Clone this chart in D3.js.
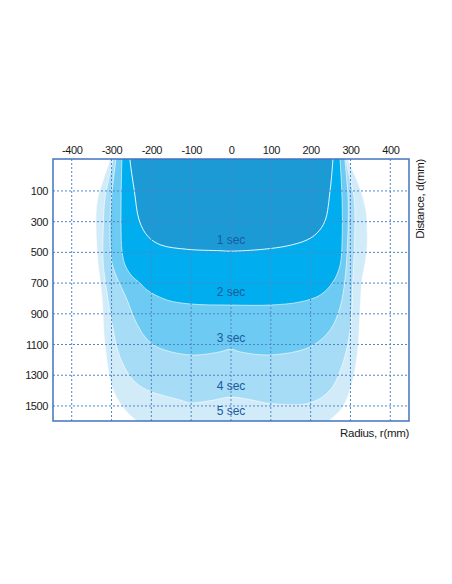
<!DOCTYPE html>
<html>
<head>
<meta charset="utf-8">
<script src="https://cdn.jsdelivr.net/npm/d3@7"></script>
<style>
  body { margin: 0; background: #fff; }
  text { font-family: "Liberation Sans", Arial, sans-serif; }
</style>
</head>
<body>
<script>
var width = 452,
	height = 584;

// chart values
var seconds = ["1 sec", "2 sec", "3 sec", "4 sec", "5 sec"];
var xTicks = [-400, -300, -200, -100, 0, 100, 200, 300, 400];
var yTicks = [100, 300, 500, 700, 900, 1100, 1300, 1500];
var labelDepth = [445, 784, 1084, 1396, 1559];

// outline of each zone: [radius r, distance d]
var zone1 = [[-256,-200],[-254,-108],[-243,94],[-230,296],[-208,398],[-176,452],[-110,480],[-28,489],[0,492],[80,480],[141,458],[191,419],[216,374],[236,296],[249,94],[256,-108],[258,-200]];
var zone2 = [[-273,-200],[-274,-108],[-276,159],[-276,354],[-274,485],[-266,582],[-249,654],[-229,699],[-211,745],[-161,810],[-103,836],[0,843],[98,843],[173,823],[224,778],[256,693],[274,582],[279,419],[279,159],[274,-108],[273,-200]];
var zone3 = [[-286,-200],[-289,-108],[-300,139],[-304,354],[-299,569],[-284,680],[-264,790],[-241,940],[-216,1051],[-186,1116],[-103,1168],[-28,1148],[0,1130],[23,1148],[98,1168],[198,1116],[249,1005],[274,856],[286,680],[294,354],[294,139],[286,-108],[284,-200]];
var zone4 = [[-292,-200],[-296,-108],[-316,139],[-321,354],[-321,569],[-316,680],[-299,960],[-279,1181],[-246,1331],[-211,1396],[-128,1461],[-103,1480],[-50,1465],[0,1442],[50,1460],[98,1484],[198,1481],[249,1396],[281,1220],[299,1005],[306,680],[311,354],[309,139],[299,29],[289,-108],[286,-200]];
var zone5 = [[-300,-200],[-304,-108],[-321,29],[-334,139],[-339,244],[-339,354],[-337,465],[-334,569],[-329,680],[-324,790],[-316,1116],[-296,1396],[-266,1526],[-236,1600],[-190,1700],[0,1740],[200,1700],[249,1591],[281,1506],[306,1331],[319,1116],[324,895],[329,680],[337,569],[342,465],[342,354],[340,244],[331,139],[316,29],[294,-108],[290,-200]];

var zones = [zone1, zone2, zone3, zone4, zone5];
var colors = ["#1b9ad6", "#00aeef", "#6dcaf2", "#a6dcf6", "#d2ebf9"];

var x = d3.scaleLinear().domain([-447, 447]).range([53, 409]),
	y = d3.scaleLinear().domain([-108, 1598]).range([159, 421]);

var svg = d3.select("body").append("svg")
	.attr("width", width)
	.attr("height", height);

svg.append("clipPath").attr("id", "plot")
	.append("rect")
	.attr("x", x.range()[0]).attr("y", y.range()[0])
	.attr("width", x.range()[1] - x.range()[0])
	.attr("height", y.range()[1] - y.range()[0]);

var line = d3.line()
	.x(function(p) { return x(p[0]); })
	.y(function(p) { return y(p[1]); })
	.curve(d3.curveCatmullRomClosed.alpha(0.5));

var g = svg.append("g").attr("clip-path", "url(#plot)");

// outer zones first
for (var i = zones.length - 1; i >= 0; i--) {
	g.append("path")
		.attr("d", line(zones[i]))
		.attr("fill", colors[i])
		.attr("stroke", "#fff")
		.attr("stroke-opacity", i === 0 ? 0.9 : 0.6)
		.attr("stroke-width", 1);
}

// dotted grid
g.selectAll(".vgrid").data(xTicks).enter().append("line")
	.attr("x1", function(d) { return x(d); }).attr("x2", function(d) { return x(d); })
	.attr("y1", y.range()[0]).attr("y2", y.range()[1])
	.attr("stroke", "#4f86c9").attr("stroke-width", 1).attr("stroke-dasharray", "2,2");
g.selectAll(".hgrid").data(yTicks).enter().append("line")
	.attr("y1", function(d) { return y(d); }).attr("y2", function(d) { return y(d); })
	.attr("x1", x.range()[0]).attr("x2", x.range()[1])
	.attr("stroke", "#4f86c9").attr("stroke-width", 1).attr("stroke-dasharray", "2,2");

// zone labels
g.selectAll(".lbl").data(seconds).enter().append("text")
	.attr("x", x(0))
	.attr("y", function(d, i) { return y(labelDepth[i]); })
	.attr("text-anchor", "middle")
	.attr("font-size", 12)
	.attr("fill", "#1a5a9e")
	.text(function(d) { return d; });

// frame
svg.append("rect")
	.attr("x", x.range()[0]).attr("y", y.range()[0])
	.attr("width", x.range()[1] - x.range()[0])
	.attr("height", y.range()[1] - y.range()[0])
	.attr("fill", "none")
	.attr("stroke", "#4374bf")
	.attr("stroke-width", 1.5);

// tick labels
var fmt = function(d) { return String(d); };
var xAxisG = svg.append("g")
	.attr("transform", "translate(0," + (y.range()[0] - 5) + ")")
	.call(d3.axisTop(x).tickValues(xTicks).tickFormat(fmt).tickSize(0).tickPadding(0));
var yAxisG = svg.append("g")
	.attr("transform", "translate(" + (x.range()[0] - 5) + ",0)")
	.call(d3.axisLeft(y).tickValues(yTicks).tickFormat(fmt).tickSize(0).tickPadding(0));
[xAxisG, yAxisG].forEach(function(a) {
	a.select(".domain").remove();
	a.selectAll("text")
		.attr("font-size", 11)
		.attr("fill", "#1a1a1a")
		.attr("letter-spacing", -0.4)
		.style("font-family", "'Liberation Sans', Arial, sans-serif");
});

// axis titles
svg.append("text")
	.attr("transform", "translate(424," + y.range()[0] + ") rotate(-90)")
	.attr("text-anchor", "end")
	.attr("font-size", 11.5)
	.attr("fill", "#1a1a1a")
	.attr("letter-spacing", -0.3)
	.text("Distance, d(mm)");
svg.append("text")
	.attr("x", x.range()[1])
	.attr("y", 437)
	.attr("text-anchor", "end")
	.attr("font-size", 11.5)
	.attr("fill", "#1a1a1a")
	.attr("letter-spacing", -0.3)
	.text("Radius, r(mm)");
</script>
</body>
</html>
